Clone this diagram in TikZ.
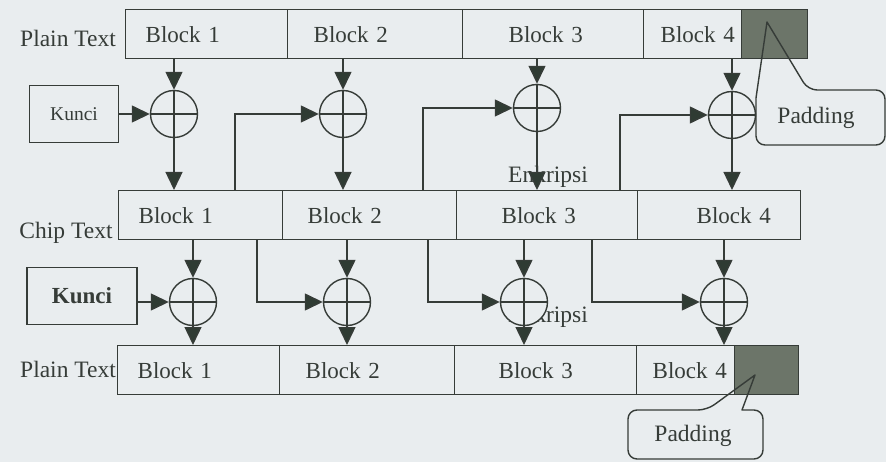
\documentclass[tikz,border=0pt]{standalone}
\usepackage{fontspec}
\setmainfont{Liberation Serif}
\usetikzlibrary{arrows.meta}
\definecolor{bg}{HTML}{E9EDEF}
\definecolor{ink}{HTML}{363C38}
\definecolor{tipc}{HTML}{2F3B33}
\definecolor{padc}{HTML}{6C7569}
\begin{document}
\begin{tikzpicture}[x=1pt,y=-1pt,
  blk/.style={draw=ink, line width=1.4pt, minimum height=49pt, inner xsep=0pt, inner ysep=0pt,
    align=left, anchor=north west, text=ink, font=\fontsize{23}{25}\selectfont},
  padblk/.style={draw=ink, line width=1.4pt, fill=padc, minimum height=49pt, inner sep=0pt, anchor=north west},
  lbl/.style={text=ink, inner sep=0pt, font=\fontsize{23.5}{25}\selectfont},
  kbox/.style={draw=ink, line width=1.4pt, text=ink, inner sep=0pt},
  xor/.style={circle, draw=ink, line width=1.4pt, fill=bg, minimum size=47pt, inner sep=0pt,
    path picture={\draw[ink, line width=1.1pt] (path picture bounding box.north) -- (path picture bounding box.south)
      (path picture bounding box.west) -- (path picture bounding box.east);}},
  arr/.style={draw=ink, line width=1.4pt, -{Triangle[length=18pt,width=17pt,fill=tipc]}},
  callout/.style={draw=ink, line width=1.4pt, line join=round}
]
\fill[bg] (0,0) rectangle (886,462);
\useasboundingbox (0,0) rectangle (886,462);

% labels under the circles
\node[lbl] (e1) at (548,177) {Enkripsi};
\node[lbl] (e2) at (548,317) {Enkripsi};

% XOR circles
\node[xor] (x11) at (174,114) {};
\node[xor] (x12) at (343,114) {};
\node[xor] (x13) at (537,108) {};
\node[xor] (x14) at (732,115) {};
\node[xor] (x21) at (193,302) {};
\node[xor] (x22) at (347,302) {};
\node[xor] (x23) at (524,302) {};
\node[xor] (x24) at (724,302) {};

% row 1
\node[blk, text width=162pt] (p1) at (125,9) {\hspace*{20pt}Block 1};
\node[blk, text width=175pt] (p2) at (287,9) {\hspace*{26pt}Block 2};
\node[blk, text width=181pt] (p3) at (462,9) {\hspace*{46pt}Block 3};
\node[blk, text width=98pt] (p4) at (643,9) {\hspace*{17pt}Block 4};
\node[padblk, minimum width=66pt] (pad1) at (741,9) {};
% row 2
\node[blk, text width=164pt] (c1) at (118,190) {\hspace*{20pt}Block 1};
\node[blk, text width=174pt] (c2) at (282,190) {\hspace*{25pt}Block 2};
\node[blk, text width=181pt] (c3) at (456,190) {\hspace*{45pt}Block 3};
\node[blk, text width=163pt] (c4) at (637,190) {\hspace*{59pt}Block 4};
% row 3
\node[blk, text width=162pt] (q1) at (117,345) {\hspace*{20pt}Block 1};
\node[blk, text width=175pt] (q2) at (279,345) {\hspace*{26pt}Block 2};
\node[blk, text width=182pt] (q3) at (454,345) {\hspace*{44pt}Block 3};
\node[blk, text width=98pt] (q4) at (636,345) {\hspace*{16pt}Block 4};
\node[padblk, minimum width=64pt] (pad2) at (734,345) {};

% side labels
\node[lbl] (lp1) at (68,38) {Plain Text};
\node[lbl] (lc) at (66,233) {Chip Text};
\node[lbl] (lp2) at (68,369) {Plain Text};

% keys
\node[kbox, minimum width=89pt, minimum height=57pt, font=\fontsize{19.5}{21}\selectfont] (k1) at (74,114) {Kunci};
\node[kbox, minimum width=110pt, minimum height=57pt, font=\bfseries\fontsize{23}{25}\selectfont] (k2) at (82,296) {Kunci};

% feedback columns
\coordinate (v12) at (235,0);
\coordinate (v13) at (423,0);
\coordinate (v14) at (620,0);
\coordinate (v22) at (257,0);
\coordinate (v23) at (428,0);
\coordinate (v24) at (592,0);

% encryption stage
\draw[arr] (p1.south -| x11) -- (x11);
\draw[arr] (p2.south -| x12) -- (x12);
\draw[arr] (p3.south -| x13) -- (x13);
\draw[arr] (p4.south -| x14) -- (x14);
\draw[arr] (k1.east |- x11) -- (x11.west);
\draw[arr] (c1.north -| v12) |- (x12.west);
\draw[arr] (c2.north -| v13) |- (x13.west);
\draw[arr] (c3.north -| v14) |- (x14.west);
\draw[arr] (x11) -- (x11 |- c1.north);
\draw[arr] (x12) -- (x12 |- c2.north);
\draw[arr] (x13) -- (x13 |- c3.north);
\draw[arr] (x14) -- (x14 |- c4.north);

% decryption stage
\draw[arr] (c1.south -| x21) -- (x21);
\draw[arr] (c2.south -| x22) -- (x22);
\draw[arr] (c3.south -| x23) -- (x23);
\draw[arr] (c4.south -| x24) -- (x24);
\draw[arr] (k2.east |- x21) -- (x21.west);
\draw[arr] (c1.south -| v22) |- (x22.west);
\draw[arr] (c2.south -| v23) |- (x23.west);
\draw[arr] (c3.south -| v24) |- (x24.west);
\draw[arr] (x21) -- (x21 |- q1.north);
\draw[arr] (x22) -- (x22 |- q2.north);
\draw[arr] (x23) -- (x23 |- q3.north);
\draw[arr] (x24) -- (x24 |- q4.north);

% padding callouts
\draw[callout] (767,22) -- (756,98) [rounded corners=9pt] -- (756,145) -- (885,145) -- (885,90) -- (808,90) [sharp corners] -- cycle;
\node[lbl] (pd1) at (816,118) {Padding};
\draw[callout] (755,375) -- (742,410) [rounded corners=9pt] -- (763,410) -- (763,459) -- (628,459) -- (628,410) -- (707,410) [sharp corners] -- cycle;
\node[lbl] (pd2) at (693,436) {Padding};
\end{tikzpicture}
\end{document}
